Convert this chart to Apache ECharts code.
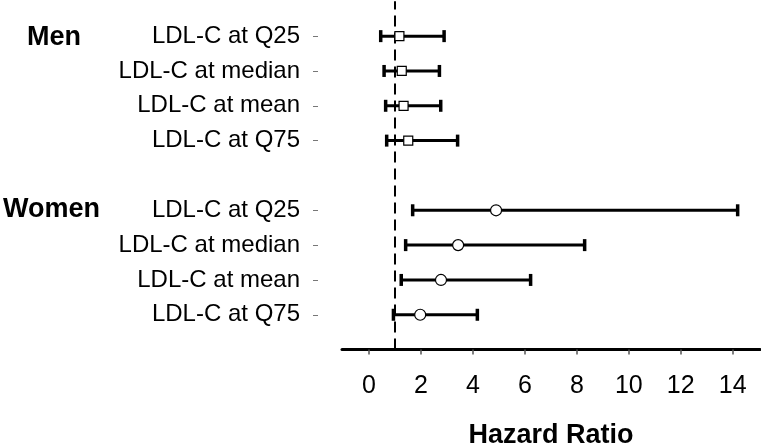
<!DOCTYPE html>
<html>
<head>
<meta charset="utf-8">
<script src="https://cdn.jsdelivr.net/npm/echarts@6/dist/echarts.min.js"></script>
<style>html,body{margin:0;padding:0;background:#fff}#c{width:761px;height:446px}</style>
</head>
<body>
<div id="c"></div>
<script>
const rowLabels = ['LDL-C at Q25', 'LDL-C at median', 'LDL-C at mean', 'LDL-C at Q75'];
const groups = ['Men', 'Women'];
const menRows = [9, 8, 7, 6];
const womenRows = [4, 3, 2, 1];
const menHR = [1.17, 1.26, 1.33, 1.51];
const menLow = [0.45, 0.58, 0.64, 0.68];
const menHigh = [2.89, 2.71, 2.76, 3.41];
const womenHR = [4.89, 3.43, 2.77, 1.97];
const womenLow = [1.68, 1.41, 1.24, 0.94];
const womenHigh = [14.19, 8.30, 6.22, 4.17];
const xTicks = [0, 2, 4, 6, 8, 10, 12, 14];
const refLine = 1;

const FONT = "'Liberation Sans', Arial, sans-serif";
const rowNameByPos = {};
menRows.forEach((r, i) => rowNameByPos[r] = rowLabels[i]);
womenRows.forEach((r, i) => rowNameByPos[r] = rowLabels[i]);
const allRows = menRows.concat(womenRows);

const errData = menRows.map((r, i) => [menLow[i], menHigh[i], r])
  .concat(womenRows.map((r, i) => [womenLow[i], womenHigh[i], r]));

function renderErr(params, api) {
  const lo = api.coord([api.value(0), api.value(2)]);
  const hi = api.coord([api.value(1), api.value(2)]);
  const h = 6;
  const st = { stroke: '#000', lineWidth: 3 };
  return {
    type: 'group',
    children: [
      { type: 'line', shape: { x1: lo[0], y1: lo[1], x2: hi[0], y2: hi[1] }, style: st },
      { type: 'line', shape: { x1: lo[0], y1: lo[1] - h, x2: lo[0], y2: lo[1] + h }, style: { stroke: '#000', lineWidth: 3.5 } },
      { type: 'line', shape: { x1: hi[0], y1: hi[1] - h, x2: hi[0], y2: hi[1] + h }, style: { stroke: '#000', lineWidth: 3.5 } }
    ]
  };
}

const chart = echarts.init(document.getElementById('c'), null, { renderer: 'canvas' });
chart.setOption({
  animation: false,
  backgroundColor: '#fff',
  textStyle: { fontFamily: FONT },
  grid: { left: 342, right: 1, top: 1.3, bottom: 96.4, containLabel: false, outerBoundsMode: 'none' },
  xAxis: {
    type: 'value', min: -1.04, max: 15.05,
    name: 'Hazard Ratio', nameLocation: 'middle', nameGap: 72,
    nameTextStyle: { fontFamily: FONT, fontSize: 27, fontWeight: 'bold', color: '#000' },
    axisLine: { show: true, onZero: false, lineStyle: { color: '#000', width: 3 } },
    axisTick: { show: true, customValues: xTicks, length: 5, lineStyle: { color: '#555', width: 1.5 } },
    axisLabel: { customValues: xTicks, fontFamily: FONT, fontSize: 25, color: '#000', margin: 24 },
    splitLine: { show: false }
  },
  yAxis: {
    type: 'value', min: 0, max: 10, offset: 24,
    axisLine: { show: false, onZero: false },
    axisTick: { show: true, inside: false, customValues: allRows, length: 5, lineStyle: { color: '#777', width: 1 } },
    axisLabel: {
      customValues: allRows, fontFamily: FONT, fontSize: 24, color: '#000', margin: 18,
      formatter: v => rowNameByPos[v] || ''
    },
    splitLine: { show: false }
  },
  graphic: [
    { type: 'text', left: 27, top: 24, style: { text: groups[0], font: "bold 27px 'Liberation Sans', Arial", fill: '#000' } },
    { type: 'text', left: 3, top: 196, style: { text: groups[1], font: "bold 27px 'Liberation Sans', Arial", fill: '#000' } }
  ],
  series: [
    { type: 'custom', renderItem: renderErr, data: errData, encode: { x: [0, 1], y: 2 }, z: 2, silent: true },
    {
      type: 'line', data: [[refLine, 0], [refLine, 10]], symbol: 'none', z: 3, silent: true,
      lineStyle: { color: '#000', width: 2, type: [11, 6] }
    },
    {
      type: 'scatter', data: menRows.map((r, i) => [menHR[i], r]), symbol: 'rect', symbolSize: 9, z: 4,
      itemStyle: { color: '#fff', borderColor: '#000', borderWidth: 1.2, opacity: 1 }
    },
    {
      type: 'scatter', data: womenRows.map((r, i) => [womenHR[i], r]), symbol: 'circle', symbolSize: 11, z: 4,
      itemStyle: { color: '#fff', borderColor: '#000', borderWidth: 1.2, opacity: 1 }
    }
  ]
});
</script>
</body>
</html>
